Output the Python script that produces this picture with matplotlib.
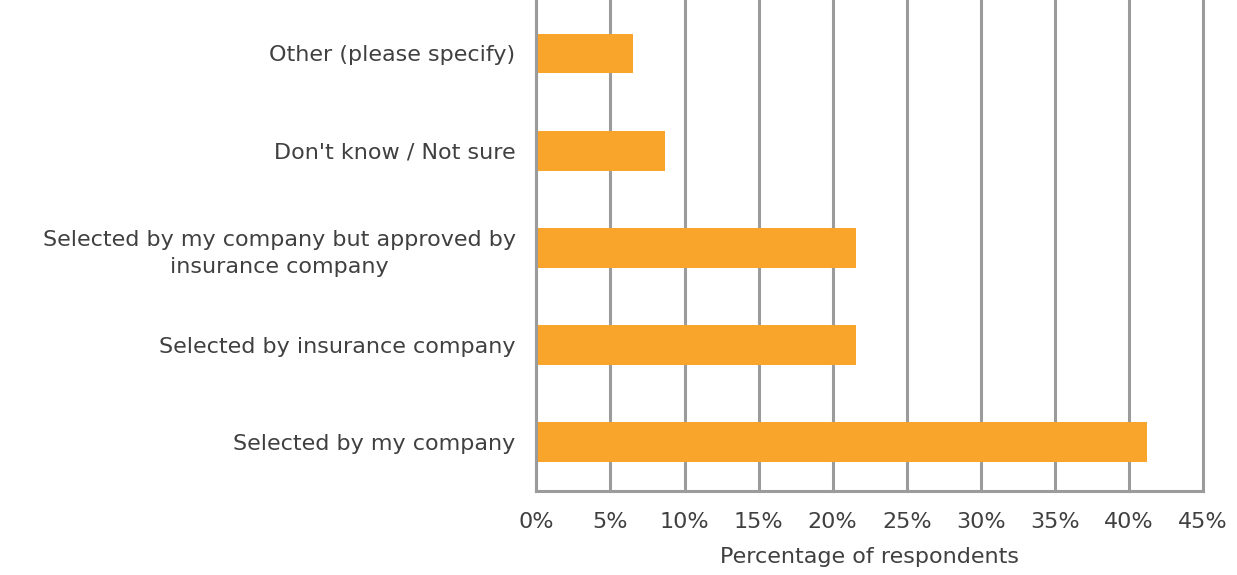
import matplotlib.pyplot as plt
import numpy as np

# Survey responses, bottom to top
categories = [
    "Selected by my company",
    "Selected by insurance company",
    "Selected by my company but approved by\ninsurance company",
    "Don't know / Not sure",
    "Other (please specify)",
]
percent = [41.2, 21.6, 21.6, 8.7, 6.5]
x_ticks = [0, 5, 10, 15, 20, 25, 30, 35, 40, 45]
x_tick_labels = [f"{t}%" for t in x_ticks]

text_color = "#404040"
grid_color = "#9b9b9b"
bar_color = "#F9A52B"
font_size = 16

plt.rcParams['font.family'] = ['DejaVu Sans']

fig = plt.figure(figsize=(12.37, 5.75), dpi=100)
ax = fig.add_axes([0.4336, 0.1461, 0.5389, 0.8539])

y = np.arange(len(categories))
ax.barh(y, percent, height=0.41, color=bar_color, zorder=3)

ax.set_xlim(0, 45)
ax.set_ylim(-0.5, 4.55)
ax.set_xticks(x_ticks)
ax.set_xticklabels(x_tick_labels)
ax.set_yticks(y)
ax.set_yticklabels(categories, multialignment='center', linespacing=1.45)

ax.tick_params(axis='both', length=0, labelsize=font_size, labelcolor=text_color)
ax.tick_params(axis='y', pad=15)
ax.tick_params(axis='x', pad=15)

ax.xaxis.grid(True, color=grid_color, linewidth=2.2, zorder=0)
ax.yaxis.grid(False)
for line in ax.get_xgridlines():
    line.set_clip_on(False)
for side in ['top', 'right']:
    ax.spines[side].set_visible(False)
for side in ['left', 'bottom']:
    ax.spines[side].set_color(grid_color)
    ax.spines[side].set_linewidth(2.2)
    ax.spines[side].set_zorder(4)

ax.set_xlabel("Percentage of respondents", fontsize=font_size, color=text_color, labelpad=11)

fig.savefig("out.png", dpi=100)
